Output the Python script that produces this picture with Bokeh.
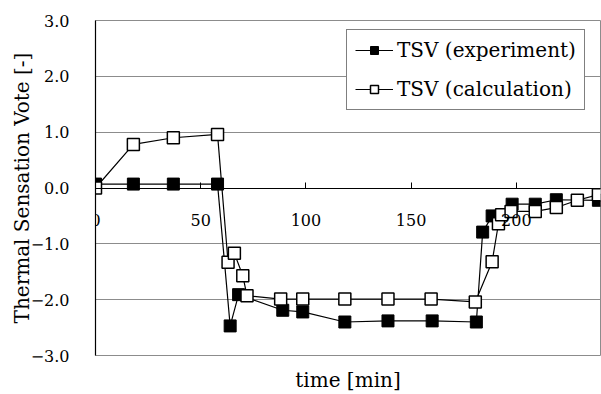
from bokeh.plotting import figure
from bokeh.models import (LinearAxis, FixedTicker, CustomJSTickFormatter, Legend,
                          LegendItem, Range1d)
from bokeh.embed import file_html
from bokeh.resources import INLINE

# ---- data ----
exp_t = [0, 18, 37, 58, 64, 68, 89, 98.5, 118.5, 139, 160, 181, 184, 188.5, 198, 209, 219, 239]
exp_v = [0.07, 0.07, 0.07, 0.07, -2.47, -1.91, -2.19, -2.22, -2.40, -2.38, -2.38, -2.40,
         -0.79, -0.50, -0.29, -0.29, -0.21, -0.22]

calc_t = [0, 18, 37, 58, 63, 66, 70, 72, 88, 98.5, 118.5, 139, 159.5, 180.5, 188.5, 191.5,
          193, 197.5, 209, 219, 229, 239]
calc_v = [0.0, 0.78, 0.90, 0.96, -1.33, -1.17, -1.57, -1.93, -1.99, -1.99, -1.99, -1.99,
          -1.99, -2.04, -1.32, -0.64, -0.48, -0.42, -0.42, -0.35, -0.22, -0.12]

x_ticks = [0, 50, 100, 150, 200]
y_ticks = [-3, -2, -1, 0, 1, 2, 3]
exp_label = "TSV (experiment)"
calc_label = "TSV (calculation)"
x_title = "time [min]"
y_title = "Thermal Sensation Vote [-]"

FONT = "DejaVu Serif"

p = figure(width=601, height=394, output_backend="svg", toolbar_location=None,
           x_range=Range1d(0, 240), y_range=Range1d(-3, 3),
           x_axis_location=None, min_border_left=95, min_border_right=1,
           min_border_top=20, min_border_bottom=39)

p.background_fill_color = "white"
p.border_fill_color = "white"
p.outline_line_color = "#8c8c8c"
p.outline_line_width = 1

# y axis
yax = p.yaxis[0]
yax.ticker = FixedTicker(ticks=y_ticks)
yax.formatter = CustomJSTickFormatter(code="""
    return (tick < 0 ? "\\u2212" : "") + Math.abs(tick).toFixed(1);
""")
yax.axis_line_color = "black"
yax.axis_line_width = 1.2
yax.major_tick_in = 0
yax.major_tick_out = 0
yax.minor_tick_line_color = None
yax.major_label_standoff = 26
yax.major_label_text_font = FONT
yax.major_label_text_font_size = "16px"
yax.major_label_text_color = "black"
yax.axis_label = y_title
yax.axis_label_text_font = FONT
yax.axis_label_text_font_size = "20px"
yax.axis_label_text_font_style = "normal"
yax.axis_label_text_color = "black"
yax.axis_label_standoff = -6

p.ygrid.ticker = FixedTicker(ticks=y_ticks)
p.ygrid.grid_line_color = "#8c8c8c"
p.ygrid.grid_line_width = 1
p.xgrid.visible = False

# x axis crossing at y = 0
xax = LinearAxis(fixed_location=0)
xax.ticker = FixedTicker(ticks=x_ticks)
xax.axis_line_color = "black"
xax.axis_line_width = 1.2
xax.major_tick_in = 6
xax.major_tick_out = 0
xax.major_tick_line_color = "black"
xax.minor_tick_line_color = None
xax.major_label_standoff = 26
xax.major_label_text_font = FONT
xax.major_label_text_font_size = "16px"
xax.major_label_text_color = "black"
p.add_layout(xax, "below")

# x axis title at the bottom of the chart
tax = LinearAxis(ticker=FixedTicker(ticks=[]), axis_label=x_title)
tax.axis_line_color = None
tax.major_tick_in = 0
tax.major_tick_out = 0
tax.minor_tick_line_color = None
tax.major_label_standoff = 0
tax.axis_label_standoff = 12
tax.axis_label_text_font = FONT
tax.axis_label_text_font_size = "20px"
tax.axis_label_text_font_style = "normal"
tax.axis_label_text_color = "black"
p.add_layout(tax, "below")

# series
l1 = p.line(exp_t, exp_v, line_color="black", line_width=1.2)
s1 = p.scatter(exp_t, exp_v, marker="square", size=12, fill_color="black",
               line_color="black", line_width=1)
l2 = p.line(calc_t, calc_v, line_color="black", line_width=1.2)
s2 = p.scatter(calc_t, calc_v, marker="square", size=12, fill_color="white",
               line_color="black", line_width=1.5)

legend = Legend(items=[LegendItem(label=exp_label, renderers=[l1, s1]),
                       LegendItem(label=calc_label, renderers=[l2, s2])],
                location=(251, 245))
legend.border_line_color = "black"
legend.border_line_width = 1.2
legend.background_fill_color = "white"
legend.background_fill_alpha = 1
legend.label_text_font = FONT
legend.label_text_font_size = "20px"
legend.label_text_color = "black"
legend.glyph_width = 38
legend.glyph_height = 20
legend.label_standoff = 4
legend.padding = 8
legend.spacing = 15
legend.margin = 0
p.add_layout(legend, "center")

open("out.html", "w").write(file_html(p, INLINE))
